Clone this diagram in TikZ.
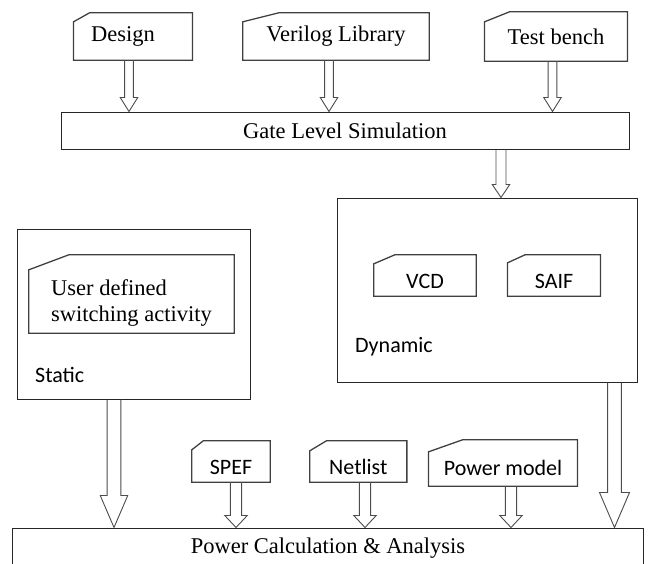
\documentclass[tikz,border=0pt]{standalone}
\usepackage{fontspec}
\setmainfont{Liberation Serif}
\newfontfamily\calibrifont{Carlito}
\usetikzlibrary{calc,positioning}

% card outline with the top left corner cut off
\newcommand{\cardedge}[3]{%
  \draw[cardline] (#1.south west) -- ([yshift=-#3]#1.north west) -- ([xshift=#2]#1.north west)
    -- (#1.north east) -- (#1.south east) -- cycle;}
% hollow block arrow: x and start from #1, end from #2
\newcommand{\hollowarrow}[5]{%
  \draw[blockarrow] let \p1=(#1), \p2=(#2) in
    (\x1-#3,\y1) -- (\x1-#3,\y2+#5) -- (\x1-#4,\y2+#5) -- (\x1,\y2)
    -- (\x1+#4,\y2+#5) -- (\x1+#3,\y2+#5) -- (\x1+#3,\y1);}

\begin{document}
\begin{tikzpicture}[x=1pt,y=-1pt,
  box/.style={draw=black!85,line width=1pt,inner sep=0pt,font=\fontsize{22.5}{26}\selectfont},
  card/.style={inner sep=0pt,font=\fontsize{22.5}{26}\selectfont},
  sanscard/.style={inner sep=0pt,font=\calibrifont\fontsize{22}{26}\selectfont,text height=25pt,text depth=0pt},
  cardline/.style={draw=black!75,line width=1.3pt,line join=miter},
  blockarrow/.style={draw=black!70,line width=0.9pt,line join=miter},
  tag/.style={font=\calibrifont\fontsize{22}{26}\selectfont,anchor=west,inner sep=0pt}
]
\useasboundingbox (0,0) rectangle (653,563);

% inputs of the simulation
\node[card,minimum width=118.5pt,minimum height=47pt] (design) at (133,36.5) {\hspace*{-20pt}Design};
\node[card,minimum width=186pt,minimum height=47pt] (verilog) at (336,36.5) {Verilog Library};
\node[card,minimum width=142.5pt,minimum height=49pt] (testbench) at (556,36.5) {Test bench};
\cardedge{design}{16pt}{9pt}
\cardedge{verilog}{36pt}{9pt}
\cardedge{testbench}{25pt}{10pt}

\node[box,minimum width=568pt,minimum height=37pt] (gls) at (345,130.5) {Gate Level Simulation};

% static and dynamic activity
\node[box,minimum width=233.5pt,minimum height=170pt] (static) at (134,314) {};
\node[box,minimum width=300pt,minimum height=184pt] (dyn) at (487.5,290) {};
\node[card,align=left,text height=55pt,text depth=0pt,minimum width=205pt,minimum height=78pt] (userdef) at (131.5,294) {User defined\\switching activity};
\cardedge{userdef}{40pt}{15pt}
\node[tag] (statictag) at (35,375) {Static};
\node[sanscard,minimum width=102pt,minimum height=41pt] (vcd) at (425,275.5) {VCD};
\node[sanscard,minimum width=92.5pt,minimum height=41pt] (saif) at (554,275.5) {SAIF};
\cardedge{vcd}{21pt}{9pt}
\cardedge{saif}{17.5pt}{8pt}
\node[tag] (dyntag) at (355,347) {Dynamic};

% extra inputs of the power calculation
\node[sanscard,minimum width=78pt,minimum height=41pt] (spef) at (231,461.5) {SPEF};
\node[sanscard,minimum width=96.7pt,minimum height=41pt] (netlist) at (358.3,461.5) {Netlist};
\node[sanscard,minimum width=148.5pt,minimum height=46pt] (powmodel) at (503,463) {Power model};
\cardedge{spef}{11.5pt}{9pt}
\cardedge{netlist}{16.7pt}{10pt}
\cardedge{powmodel}{34pt}{12pt}

\node[box,minimum width=631pt,minimum height=40pt] (pca) at (328,548) {Power Calculation \& Analysis};

% block arrows
\hollowarrow{[xshift=-4pt]design.south}{gls.north}{4.4pt}{8.75pt}{14pt}
\hollowarrow{[xshift=-7pt]verilog.south}{gls.north}{4.4pt}{8.75pt}{14pt}
\hollowarrow{[xshift=-3.5pt]testbench.south}{gls.north}{4.4pt}{8.75pt}{14pt}
\hollowarrow{[xshift=156pt]gls.south}{dyn.north}{5pt}{8.75pt}{13pt}
\hollowarrow{[xshift=-20pt]static.south}{pca.north}{6.9pt}{13.75pt}{32pt}
\hollowarrow{[xshift=-23.5pt]dyn.south east}{pca.north}{6.9pt}{15pt}{35pt}
\hollowarrow{[xshift=5pt]spef.south}{pca.north}{5.6pt}{11.25pt}{12pt}
\hollowarrow{[xshift=6.7pt]netlist.south}{pca.north}{5.6pt}{11.25pt}{12pt}
\hollowarrow{[xshift=8pt]powmodel.south}{pca.north}{5.6pt}{11.25pt}{12pt}
\end{tikzpicture}
\end{document}
